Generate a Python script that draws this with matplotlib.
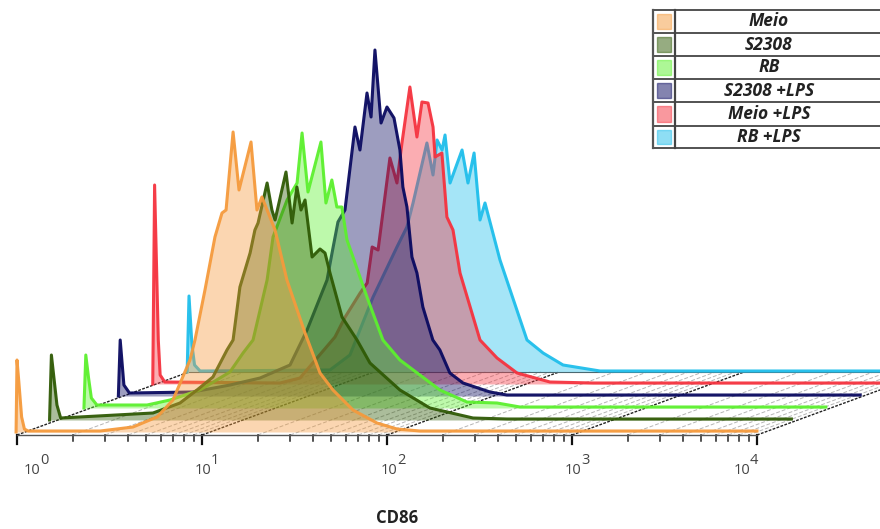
import numpy as np
import matplotlib
matplotlib.use("Agg")
import matplotlib.pyplot as plt
from matplotlib.patches import Rectangle

# each histogram: CD86 in log10 decades, height in counts
meio_x = [-0.005, 0.0, 0.01, 0.025, 0.04, 0.06, 0.45, 0.627, 0.757, 0.843, 0.935, 0.962, 1.016, 1.07, 1.108, 1.13, 1.168, 1.2, 1.265, 1.297, 1.324, 1.395, 1.459, 1.557, 1.638, 1.708, 1.816, 1.946, 2.054, 2.178, 4.0]
meio_y = [0, 72, 50, 15, 3, 1, 1, 5, 15, 32, 72, 92, 142, 195, 219, 222, 300, 242, 290, 222, 235, 202, 152, 99, 59, 42, 22, 9, 3, 1, 1]

s2308_x = [-0.01, 0.0, 0.015, 0.03, 0.05, 0.549, 0.695, 0.787, 0.873, 0.949, 0.982, 1.019, 1.074, 1.1, 1.117, 1.166, 1.192, 1.209, 1.268, 1.301, 1.327, 1.349, 1.371, 1.409, 1.452, 1.479, 1.506, 1.571, 1.652, 1.722, 1.884, 2.046, 2.279, 2.463, 4.0]
s2308_y = [0, 65, 40, 15, 2, 7, 17, 30, 43, 70, 80, 133, 167, 190, 197, 237, 210, 200, 248, 197, 233, 210, 220, 163, 171, 167, 147, 103, 80, 57, 30, 12, 2, 1, 1]

rb_x = [-0.01, 0.0, 0.015, 0.03, 0.06, 0.331, 0.455, 0.617, 0.779, 0.85, 0.904, 0.98, 1.012, 1.088, 1.142, 1.169, 1.201, 1.271, 1.298, 1.33, 1.357, 1.384, 1.412, 1.52, 1.606, 1.698, 1.914, 2.06, 2.223, 2.347, 4.0]
rb_y = [0, 53, 30, 10, 3, 3, 8, 18, 36, 55, 68, 128, 171, 208, 225, 275, 216, 266, 205, 228, 201, 201, 168, 111, 68, 48, 18, 6, 5, 1, 1]

s2308_lps_x = [-0.01, 0.0, 0.02, 0.05, 0.39, 0.594, 0.756, 0.918, 1.01, 1.118, 1.145, 1.177, 1.215, 1.269, 1.296, 1.334, 1.356, 1.377, 1.41, 1.442, 1.48, 1.512, 1.528, 1.55, 1.577, 1.604, 1.636, 1.69, 1.728, 1.782, 1.853, 1.999, 2.09, 4.0]
s2308_lps_y = [0, 56, 11, 3, 4, 11, 18, 31, 66, 116, 143, 174, 186, 269, 246, 303, 279, 346, 273, 289, 278, 246, 209, 189, 139, 123, 89, 56, 46, 23, 13, 4, 1, 1]

meio_lps_x = [-0.01, 0.0, 0.02, 0.03, 0.055, 0.678, 0.786, 0.975, 1.03, 1.111, 1.149, 1.176, 1.208, 1.272, 1.31, 1.337, 1.38, 1.418, 1.445, 1.478, 1.505, 1.516, 1.553, 1.58, 1.613, 1.651, 1.759, 1.851, 1.959, 2.137, 2.37, 4.0]
meio_lps_y = [0, 199, 44, 9, 2, 1, 6, 47, 67, 91, 101, 137, 134, 226, 201, 241, 297, 247, 282, 281, 257, 227, 231, 167, 154, 111, 44, 26, 11, 2, 1, 1]

rb_lps_x = [-0.01, 0.0, 0.016, 0.03, 0.06, 0.762, 0.87, 0.995, 1.124, 1.178, 1.211, 1.286, 1.319, 1.341, 1.368, 1.384, 1.411, 1.476, 1.508, 1.541, 1.573, 1.6, 1.681, 1.827, 1.914, 2.022, 2.222, 4.0]
rb_lps_y = [0, 76, 27, 7, 1, 2, 17, 75, 125, 145, 169, 229, 197, 232, 222, 237, 189, 222, 189, 219, 152, 169, 112, 32, 19, 7, 1, 1]

labels = ["Meio", "S2308", "RB", "S2308 +LPS", "Meio +LPS", "RB +LPS"]
colors = ["#F59A3C", "#2F5A05", "#5CF02E", "#0A0A60", "#F5333F", "#1FBEEB"]
series = [(meio_x, meio_y), (s2308_x, s2308_y), (rb_x, rb_y),
          (s2308_lps_x, s2308_lps_y), (meio_lps_x, meio_lps_y), (rb_lps_x, rb_lps_y)]
decades = [0, 1, 2, 3, 4]
label_shift = [15, 1, 2, 1, -15]

# 1 count = 1 pixel, 1 decade = 185 pixels
PX = 185.0
step_x = 34.4 / PX
step_y = 12.0
floor = -3

plt.rcParams["font.family"] = ["Open Sans", "DejaVu Sans"]
fig = plt.figure(figsize=(8.8, 5.29), dpi=100)
ax = fig.add_axes([0, 0, 1, 1])
ax.set_xlim(-17 / PX, 863 / PX)
ax.set_ylim(-97, 432)
ax.axis("off")

# floor of the 3d plot
n = len(series) - 1
for d in decades[:-1]:
    for m in range(2, 10):
        t = d + np.log10(m)
        ax.plot([t, t + n * step_x], [floor, n * step_y], color="#b5b5b5", lw=0.7, ls=(0, (4, 2)), zorder=1)
        ax.plot([t, t], [floor, floor - 6], color="#222222", lw=1.1, zorder=9)
for d in decades:
    ax.plot([d, d + n * step_x], [floor, n * step_y], color="#222222", lw=1.0, ls=(0, (2, 1)), zorder=1)
    ax.plot([d, d], [floor, floor - 9], color="#111111", lw=1.6, zorder=9)
ax.plot([decades[0], decades[-1]], [floor, floor], color="#555555", lw=1.0, zorder=9)
ax.plot([n * step_x, 5], [n * step_y, n * step_y], color="#555555", lw=0.8, zorder=1)

# back to front
for i in range(n, -1, -1):
    xs = np.array(series[i][0]) + i * step_x
    ys = np.array(series[i][1]) + i * step_y
    ax.fill_between(xs, i * step_y, ys, color=colors[i], alpha=0.4, lw=0, zorder=2 + (n - i))
    ax.plot(xs, ys, color=colors[i], lw=2.2, alpha=0.95, solid_joinstyle="round", zorder=2 + (n - i))

for d, s in zip(decades, label_shift):
    x = d + s / PX
    ax.text(x, -39, "10", ha="center", va="center", fontsize=10.5, color="#444444")
    ax.text(x + 12 / PX, -28, str(d), ha="center", va="center", fontsize=10.5, color="#444444")

ax.text(380 / PX, -86, "CD86", ha="center", va="center", fontsize=12, fontweight="bold", color="#222222")

# legend table, drawn in pixels
tb = fig.add_axes([0, 0, 1, 1])
tb.set_xlim(0, 880)
tb.set_ylim(529, 0)
tb.axis("off")
rows = [10, 33, 56, 79, 102, 126, 148]
tb.add_patch(Rectangle((653, 10), 227, 138, fc="white", ec="none", zorder=1))
for y in rows:
    tb.plot([653, 880], [y, y], color="#444444", lw=1.3, zorder=2)
tb.plot([653, 653], [rows[0], rows[-1]], color="#555555", lw=1.6, zorder=2)
tb.plot([675, 675], [rows[0], rows[-1]], color="#444444", lw=1.6, zorder=2)
for i, lab in enumerate(labels):
    y0, y1 = rows[i], rows[i + 1]
    tb.add_patch(Rectangle((656.5, y0 + 4), 14, y1 - y0 - 8, fc=colors[i], alpha=0.5, ec=colors[i], lw=1.0, zorder=3))
    tb.text(769, (y0 + y1) / 2, lab, ha="center", va="center", fontsize=12.5,
            fontweight="bold", fontstyle="italic", color="#222222", zorder=3)

fig.savefig("out.png", dpi=100)
